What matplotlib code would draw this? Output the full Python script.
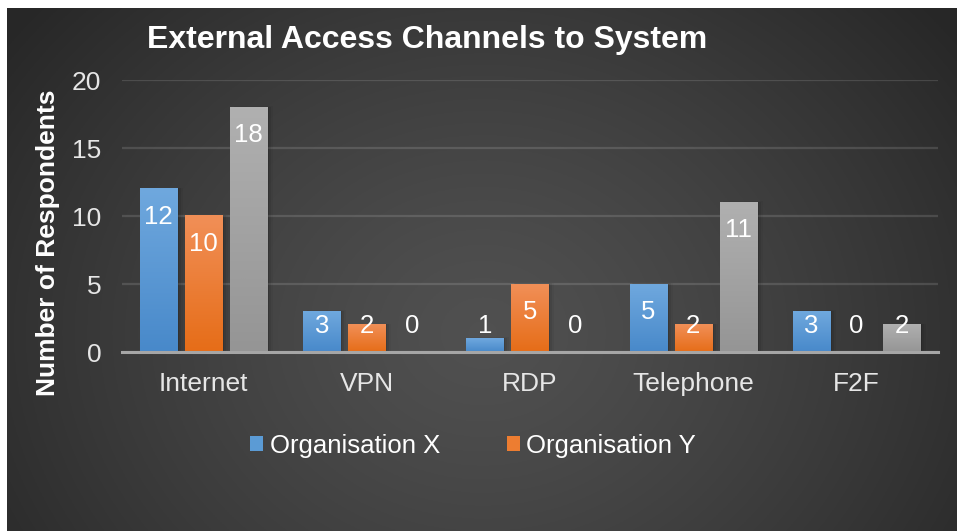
import numpy as np
import matplotlib
matplotlib.use("Agg")
import matplotlib.pyplot as plt
from matplotlib.patches import Patch
from matplotlib.colors import LinearSegmentedColormap

plt.rcParams['font.family'] = ['Liberation Sans', 'DejaVu Sans']

# Data
categories = ["Internet", "VPN", "RDP", "Telephone", "F2F"]
org_x = [12, 3, 1, 5, 3]
org_y = [10, 2, 5, 2, 0]
other = [18, 0, 0, 11, 2]
series_names = ["Organisation X", "Organisation Y", "_nolegend_"]
y_ticks = [0, 5, 10, 15, 20]

title = "External Access Channels to System"
y_label = "Number of Respondents"

# Style
grad_colors = [
    ("#6fa8de", "#4889ca"),   # blue: top, bottom
    ("#f18f57", "#e66d18"),   # orange
    ("#b0b0b0", "#959595"),   # gray
]
legend_colors = ["#5b9bd5", "#ed7d31"]

W, H, DPI = 957, 531, 100
fig = plt.figure(figsize=(W / DPI, H / DPI), dpi=DPI, facecolor="white")

# Dark radial-gradient panel
bg = fig.add_axes([7 / W, 0, 950 / W, 523 / H])
bg.set_axis_off()
ny, nx = 300, 540
yy, xx = np.mgrid[0:ny, 0:nx]
cx, cy = nx * 0.50, ny * 0.62
r = np.sqrt(((xx - cx) / (nx * 0.62)) ** 2 + ((yy - cy) / (ny * 0.95)) ** 2)
r = np.clip(r, 0, 1)
c_in, c_out = 0.315, 0.155
val = c_in + (c_out - c_in) * r ** 1.3
img = np.dstack([val, val, val])
bg.imshow(img, aspect="auto", extent=[0, 1, 0, 1], origin="upper")
bg.set_xlim(0, 1)
bg.set_ylim(0, 1)

# Plot area
ax = fig.add_axes([122 / W, 1 - 352 / H, (938 - 122) / W, (352 - 80) / H])
ax.set_facecolor("none")
ax.patch.set_alpha(0)

x = np.arange(len(categories))
bw = 0.227
offs = [-0.276, 0.0, 0.276]
all_series = [org_x, org_y, other]

def gradient_bar(ax, rect, top, bottom):
    x0, w, h = rect.get_x(), rect.get_width(), rect.get_height()
    if h <= 0:
        return
    cmap = LinearSegmentedColormap.from_list("g", [bottom, top])
    grad = np.linspace(0, 1, 64).reshape(-1, 1)
    # soft shadow
    for k, a in enumerate([0.10, 0.07, 0.04]):
        d = 0.012 * (k + 1)
        ax.add_patch(plt.Rectangle((x0 + d * 0.6, 0), w + d * 0.4, h + d * 2,
                                   color="black", alpha=a, lw=0, zorder=1.5))
    ax.imshow(grad, cmap=cmap, aspect="auto", origin="lower",
              extent=[x0, x0 + w, 0, h], zorder=2, interpolation="bicubic")

for i, (vals, name) in enumerate(zip(all_series, series_names)):
    bars = ax.bar(x + offs[i], vals, bw, color="none", label=name, zorder=2)
    for rect in bars:
        gradient_bar(ax, rect, *grad_colors[i])
    for xi, v in zip(x + offs[i], vals):
        ly = max(v - 2.06, 1.9)
        ax.text(xi, ly, str(v), ha="center", va="center", color="white",
                fontsize=18.5, zorder=5)

ax.set_xlim(-0.5, len(categories) - 0.5)
ax.set_ylim(0, 20)
ax.set_yticks(y_ticks)
ax.set_xticks(x)
ax.set_xticklabels(categories)
ax.tick_params(axis="both", length=0, labelsize=19, labelcolor="#e6e6e6")
ax.tick_params(axis="y", pad=15)
ax.tick_params(axis="x", pad=14.5)
for s in ["top", "right", "left"]:
    ax.spines[s].set_visible(False)
ax.spines["bottom"].set_color("#a6a6a6")
ax.spines["bottom"].set_linewidth(2.2)
ax.spines["bottom"].set_zorder(4)
ax.grid(axis="y", color="#ffffff", alpha=0.13, lw=1.6)
ax.set_axisbelow(True)

fig.text(48 / W, 1 - 243 / H, y_label, rotation=90, ha="center", va="center",
         color="white", fontsize=19, fontweight="bold")
fig.text(147 / W, 1 - 40 / H, title, ha="left", va="center", color="white",
         fontsize=23, fontweight="bold")

handles = [Patch(facecolor=c, edgecolor="none") for c in legend_colors]
leg = fig.legend(handles, series_names[:2], loc="center",
                 bbox_to_anchor=(473 / W, 1 - 446 / H), ncol=2, frameon=False,
                 fontsize=18.5, handlelength=0.52, handleheight=0.52,
                 handletextpad=0.25, columnspacing=2.6, labelcolor="white")

fig.savefig("out.png", dpi=DPI, facecolor="white")
